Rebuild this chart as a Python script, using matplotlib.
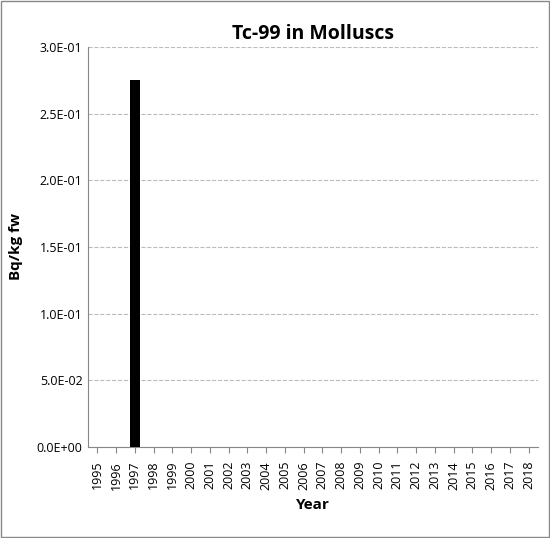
import matplotlib.pyplot as plt
from matplotlib.patches import Rectangle

years = [str(y) for y in range(1995, 2019)]
values = [0, 0, 0.275] + [0] * 21

plt.rcParams['font.family'] = ['Open Sans', 'DejaVu Sans']

fig = plt.figure(figsize=(5.5, 5.38), dpi=100)
ax = fig.add_axes([88 / 550, 91 / 538, 450 / 550, 400 / 538])

x = range(len(years))
ax.bar(x, values, width=0.5, color='black', zorder=3)

ax.set_xlim(-0.5, len(years) - 0.5)
ax.set_ylim(0, 0.3)
ticks = [0, 0.05, 0.1, 0.15, 0.2, 0.25, 0.3]
ax.set_yticks(ticks)
ax.set_yticklabels(['0.0E+00', '5.0E-02', '1.0E-01', '1.5E-01', '2.0E-01', '2.5E-01', '3.0E-01'], fontsize=9)
ax.set_xticks(list(x))
ax.set_xticklabels(years, rotation=90, fontsize=9)
ax.tick_params(axis='y', length=0, pad=4)
ax.tick_params(axis='x', length=4, color='#888888', pad=6)
ax.yaxis.grid(True, linestyle='--', color='#bbbbbb', linewidth=0.8, zorder=0)

for side in ['top', 'right']:
    ax.spines[side].set_visible(False)
ax.spines['left'].set_color('#888888')
ax.spines['bottom'].set_color('#888888')

ax.set_title('Tc-99 in Molluscs', fontsize=14, fontweight='bold', pad=6)
ax.set_xlabel('Year', fontsize=11, fontweight='bold', labelpad=6)
ax.set_ylabel('Bq/kg fw', fontsize=11, fontweight='bold', labelpad=10)

fig.patches.append(Rectangle((0.002, 0.002), 0.996, 0.996, transform=fig.transFigure,
                             fill=False, edgecolor='#888888', linewidth=1))

fig.savefig('out.png', dpi=100)
